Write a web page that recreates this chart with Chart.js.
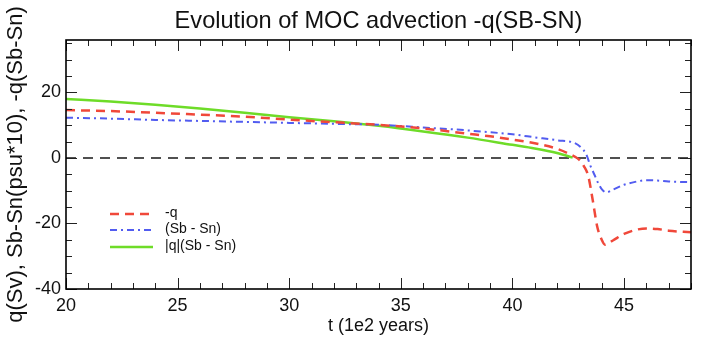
<!DOCTYPE html>
<html>
<head>
<meta charset="utf-8">
<script src="https://cdn.jsdelivr.net/npm/chart.js@4.4.0/dist/chart.umd.min.js"></script>
<style>
html,body{margin:0;padding:0;background:#fff;}
#wrap{width:710px;height:341px;position:relative;}
</style>
</head>
<body>
<div id="wrap"><canvas id="c" width="710" height="341"></canvas></div>
<script>
// ---- data ----
const chartTitle = "Evolution of MOC advection -q(SB-SN)";
const xTitle = "t (1e2 years)";
const yTitle = "q(Sv), Sb-Sn(psu*10), -q(Sb-Sn)";
const xTickLabels = [20, 25, 30, 35, 40, 45];
const yTickLabels = [-40, -20, 0, 20];
const xRange = [20, 48];
const yRange = [-40, 36];

const seriesNames = ["-q", "(Sb - Sn)", "|q|(Sb - Sn)"];

const tRed = [20, 22, 24, 26, 28, 30, 32, 34, 36, 38, 39, 40, 41, 42, 42.5, 43, 43.2, 43.4, 43.6, 43.8, 44.0, 44.15, 44.5, 45, 45.5, 46, 46.5, 47, 48];
const negQ = [14.6, 14.3, 13.8, 13.2, 12.6, 11.7, 10.9, 10.1, 9.0, 7.4, 6.6, 5.6, 4.5, 2.8, 1.4, -0.6, -2.5, -5.6, -13, -21, -25, -26.5, -25.2, -23.2, -22, -21.5, -21.7, -22.2, -22.7];

const tBlue = [20, 22, 24, 26, 28, 30, 32, 34, 36, 38, 40, 41, 42, 42.8, 43.1, 43.3, 43.5, 43.7, 43.85, 44.0, 44.2, 44.5, 45, 45.5, 46, 46.5, 47, 48];
const sbSn = [12.3, 12.0, 11.6, 11.3, 11.0, 10.7, 10.4, 10.1, 9.3, 8.4, 7.2, 6.3, 5.4, 4.5, 3.0, 1.2, -2.5, -5.5, -7.8, -9.5, -10.5, -9.7, -8.2, -7.3, -6.8, -6.9, -7.2, -7.4];

const tGreen = [20, 22, 24, 26, 28, 30, 32, 34, 36, 38, 40, 41, 42, 42.7];
const absQ = [18.0, 17.2, 16.2, 15.1, 13.8, 12.4, 11.2, 9.8, 8.1, 6.2, 4.0, 2.9, 1.5, 0.1];

const tZero = [20, 48];
const zeroV = [0, 0];

const pts = (t, v) => t.map((x, i) => ({x: x, y: v[i]}));
const FONT = "'Liberation Sans', Arial, Helvetica, sans-serif";

const frameTicks = {
  id: 'frameTicks',
  afterDatasetsDraw(chart) {
    const {ctx, chartArea: {left, right, top, bottom}, scales: {x, y}} = chart;
    ctx.save();
    ctx.strokeStyle = '#222';
    ctx.lineWidth = 1;
    ctx.beginPath();
    for (let v = xRange[0]; v <= xRange[1]; v += 1) {
      const px = Math.round(x.getPixelForValue(v)) + 0.5;
      const L = (v % 5 === 0) ? 11 : 6;
      ctx.moveTo(px, bottom); ctx.lineTo(px, bottom - L);
      ctx.moveTo(px, top); ctx.lineTo(px, top + L);
    }
    for (let v = yRange[0]; v <= yRange[1]; v += 5) {
      const py = Math.round(y.getPixelForValue(v)) + 0.5;
      const L = (v % 20 === 0) ? 11 : 6;
      ctx.moveTo(left, py); ctx.lineTo(left + L, py);
      ctx.moveTo(right, py); ctx.lineTo(right - L, py);
    }
    ctx.stroke();
    ctx.strokeStyle = '#000';
    ctx.lineWidth = 1.6;
    ctx.strokeRect(left, top, right - left, bottom - top);
    ctx.restore();
  },
  afterDraw(chart) {
    const {ctx, chartArea: {left, right}} = chart;
    ctx.save();
    // title
    ctx.fillStyle = '#111';
    ctx.font = "23.6px " + FONT;
    ctx.textAlign = 'center';
    ctx.textBaseline = 'middle';
    ctx.fillText(chartTitle, (left + right) / 2, 21);
    // legend
    const rows = [214, 230, 247];
    ctx.font = "14px " + FONT;
    ctx.textAlign = 'left';
    for (let i = 0; i < 3; i++) {
      const ds = chart.data.datasets[i];
      ctx.strokeStyle = ds.borderColor;
      ctx.lineWidth = ds.borderWidth;
      ctx.setLineDash(ds.borderDash || []);
      ctx.beginPath();
      ctx.moveTo(110, rows[i]); ctx.lineTo(153, rows[i]);
      ctx.stroke();
      ctx.setLineDash([]);
      ctx.fillStyle = '#111';
      ctx.fillText(seriesNames[i], 165, rows[i] - 1);
    }
    ctx.restore();
  }
};

new Chart(document.getElementById('c'), {
  type: 'line',
  data: {
    datasets: [
      {label: seriesNames[0], data: pts(tRed, negQ), borderColor: 'rgb(240,72,58)', borderWidth: 2.5, borderDash: [9, 6], pointRadius: 0, cubicInterpolationMode: 'monotone', fill: false},
      {label: seriesNames[1], data: pts(tBlue, sbSn), borderColor: 'rgb(82,92,240)', borderWidth: 2, borderDash: [7, 4, 2, 4], pointRadius: 0, cubicInterpolationMode: 'monotone', fill: false},
      {label: seriesNames[2], data: pts(tGreen, absQ), borderColor: 'rgb(110,220,40)', borderWidth: 2.5, pointRadius: 0, cubicInterpolationMode: 'monotone', fill: false},
      {label: 'zero', data: pts(tZero, zeroV), borderColor: 'rgb(80,80,80)', borderWidth: 2, borderDash: [10, 7], pointRadius: 0, fill: false}
    ]
  },
  options: {
    responsive: false,
    animation: false,
    devicePixelRatio: 1,
    layout: {padding: {top: 40, right: 19, left: 0, bottom: 0}},
    plugins: {legend: {display: false}, title: {display: false}, tooltip: {enabled: false}},
    scales: {
      x: {
        type: 'linear', min: xRange[0], max: xRange[1],
        afterBuildTicks: s => { s.ticks = xTickLabels.map(v => ({value: v})); },
        afterFit: s => { s.height = 52; },
        grid: {display: false, drawTicks: false},
        border: {display: false},
        ticks: {padding: 6, color: '#111', font: {family: FONT, size: 18}, maxRotation: 0, autoSkip: false},
        title: {display: true, text: xTitle, color: '#111', font: {family: FONT, size: 18}, padding: {top: 4, bottom: 4}}
      },
      y: {
        type: 'linear', min: yRange[0], max: yRange[1],
        afterBuildTicks: s => { s.ticks = yTickLabels.map(v => ({value: v})); },
        afterFit: s => { s.width = 66; },
        grid: {display: false, drawTicks: false},
        border: {display: false},
        ticks: {padding: 5, color: '#111', font: {family: FONT, size: 18}, autoSkip: false},
        title: {display: true, text: yTitle, color: '#111', font: {family: FONT, size: 22}, padding: {top: 3, bottom: 3}}
      }
    }
  },
  plugins: [frameTicks]
});
</script>
</body>
</html>
